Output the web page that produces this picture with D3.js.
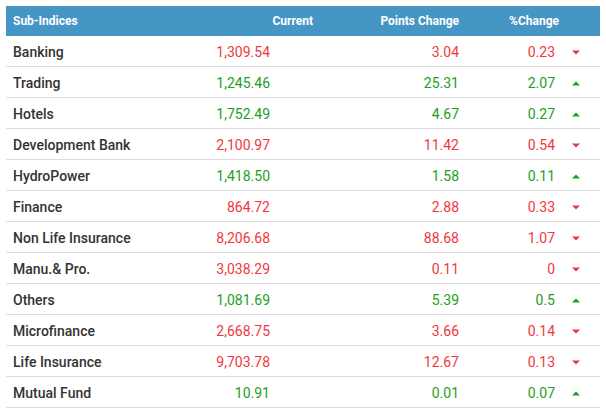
<!DOCTYPE html>
<html><head><meta charset="utf-8">
<script src="https://cdn.jsdelivr.net/npm/d3@7"></script>
<style>body{margin:0;background:#fff}</style>
</head><body><div class="chart"></div>
<script>
const names = ["Banking","Trading","Hotels","Development Bank","HydroPower","Finance","Non Life Insurance","Manu.& Pro.","Others","Microfinance","Life Insurance","Mutual Fund"];
const current = ["1,309.54","1,245.46","1,752.49","2,100.97","1,418.50","864.72","8,206.68","3,038.29","1,081.69","2,668.75","9,703.78","10.91"];
const points = ["3.04","25.31","4.67","11.42","1.58","2.88","88.68","0.11","5.39","3.66","12.67","0.01"];
const pct = ["0.23","2.07","0.27","0.54","0.11","0.33","1.07","0","0.5","0.14","0.13","0.07"];
const up = [false,true,true,false,true,false,false,false,true,false,false,true];
const headers = ["Sub-Indices","Current","Points Change","%Change"];

const width = 606, height = 413;
const tableTop = 6, headH = 30, rowH = 31;
const svg = d3.select(".chart").append("svg").attr("width", width).attr("height", height);

const y = d3.scaleBand().domain(d3.range(names.length))
  .range([tableTop + headH, tableTop + headH + rowH * names.length]);

svg.append("rect").attr("x", 6).attr("y", tableTop).attr("width", 594).attr("height", headH).attr("fill", "#4596c5");
const colX = [13, 313, 459, 559];
headers.forEach((h, i) => {
  svg.append("text").attr("x", colX[i]).attr("y", tableTop + headH / 2 + 4)
    .attr("text-anchor", i ? "end" : "start")
    .attr("font-family", "Roboto, Arial, sans-serif").attr("font-size", 12).attr("font-weight", "bold")
    .attr("fill", "#fff").text(h);
});

const rows = svg.append("g").selectAll("g").data(d3.range(names.length)).join("g")
  .attr("transform", i => `translate(0,${y(i)})`);
rows.append("line").attr("x1", 6).attr("x2", 600).attr("y1", rowH - 0.5).attr("y2", rowH - 0.5)
  .attr("stroke", "#ddd");
const txt = (sel) => sel.attr("y", rowH / 2 + 5).attr("font-family", "Roboto, Arial, sans-serif").attr("font-size", 14);
rows.append("text").call(txt).attr("x", 13).attr("font-weight", 500).attr("fill", "#333").text(i => names[i]);
const col = i => up[i] ? "#1e9e1e" : "#f2373c";
rows.append("text").call(txt).attr("x", 270).attr("text-anchor", "end").attr("fill", col).text(i => current[i]);
rows.append("text").call(txt).attr("x", 459).attr("text-anchor", "end").attr("fill", col).text(i => points[i]);
rows.append("text").call(txt).attr("x", 555).attr("text-anchor", "end").attr("fill", col).text(i => pct[i]);
rows.append("path").attr("fill", col)
  .attr("d", i => up[i] ? `M572,${rowH/2+3}L576,${rowH/2-1}L580,${rowH/2+3}Z` : `M572,${rowH/2-1}L576,${rowH/2+3}L580,${rowH/2-1}Z`);
</script></body></html>
